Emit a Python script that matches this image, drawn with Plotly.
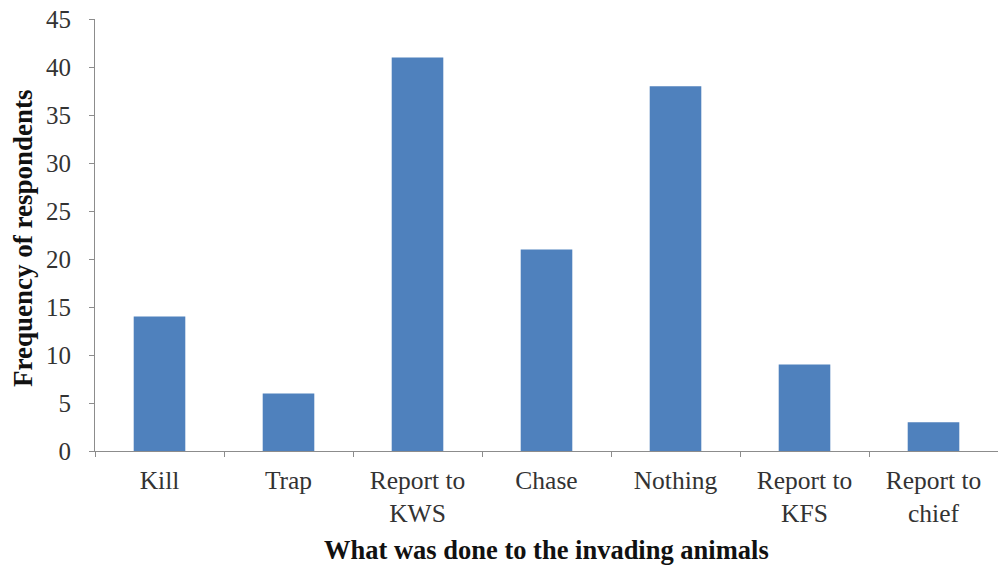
import plotly.graph_objects as go

categories = ["Kill", "Trap", "Report to<br>KWS", "Chase", "Nothing", "Report to<br>KFS", "Report to<br>chief"]
values = [14, 6, 41, 21, 38, 9, 3]
y_ticks = [0, 5, 10, 15, 20, 25, 30, 35, 40, 45]

font_family = "Liberation Serif, Times New Roman, serif"

fig = go.Figure(go.Bar(x=categories, y=values, marker=dict(color="#4F81BD", line=dict(width=0))))

fig.update_layout(
    width=998, height=565,
    margin=dict(l=95, r=0, t=19, b=114, autoexpand=False),
    paper_bgcolor="white", plot_bgcolor="white",
    bargap=0.6,
    font=dict(family=font_family, size=25, color="#333333"),
    showlegend=False,
    annotations=[
        dict(text="<b>What was done to the invading animals</b>", xref="paper", yref="paper",
             x=0.5, y=0, yshift=-99, xanchor="center", yanchor="middle", showarrow=False,
             font=dict(size=26.5, color="#111111")),
        dict(text="<b>Frequency of respondents</b>", xref="paper", yref="paper",
             x=0, y=0.5, xshift=-72, yshift=-3, xanchor="center", yanchor="middle", showarrow=False,
             textangle=-90, font=dict(size=27, color="#111111")),
    ],
)
fig.update_xaxes(
    automargin=False,
    showline=True, linecolor="#8c8c8c", linewidth=1,
    ticks="outside", ticklen=5, tickcolor="#8c8c8c", tickson="boundaries",
    showgrid=False, tickfont=dict(size=25.5, color="#333333"),
    ticklabelstandoff=6,
)
fig.update_yaxes(
    automargin=False,
    range=[0, 45], tickvals=y_ticks,
    showline=True, linecolor="#8c8c8c", linewidth=1,
    ticks="outside", ticklen=5, tickcolor="#8c8c8c",
    showgrid=False, zeroline=False, tickfont=dict(size=25, color="#333333"),
    ticklabelstandoff=13, ticklabeloverflow="allow",
)

fig.write_html("out.html", config={"displayModeBar": False},
               post_script="document.body.style.margin='0';")
